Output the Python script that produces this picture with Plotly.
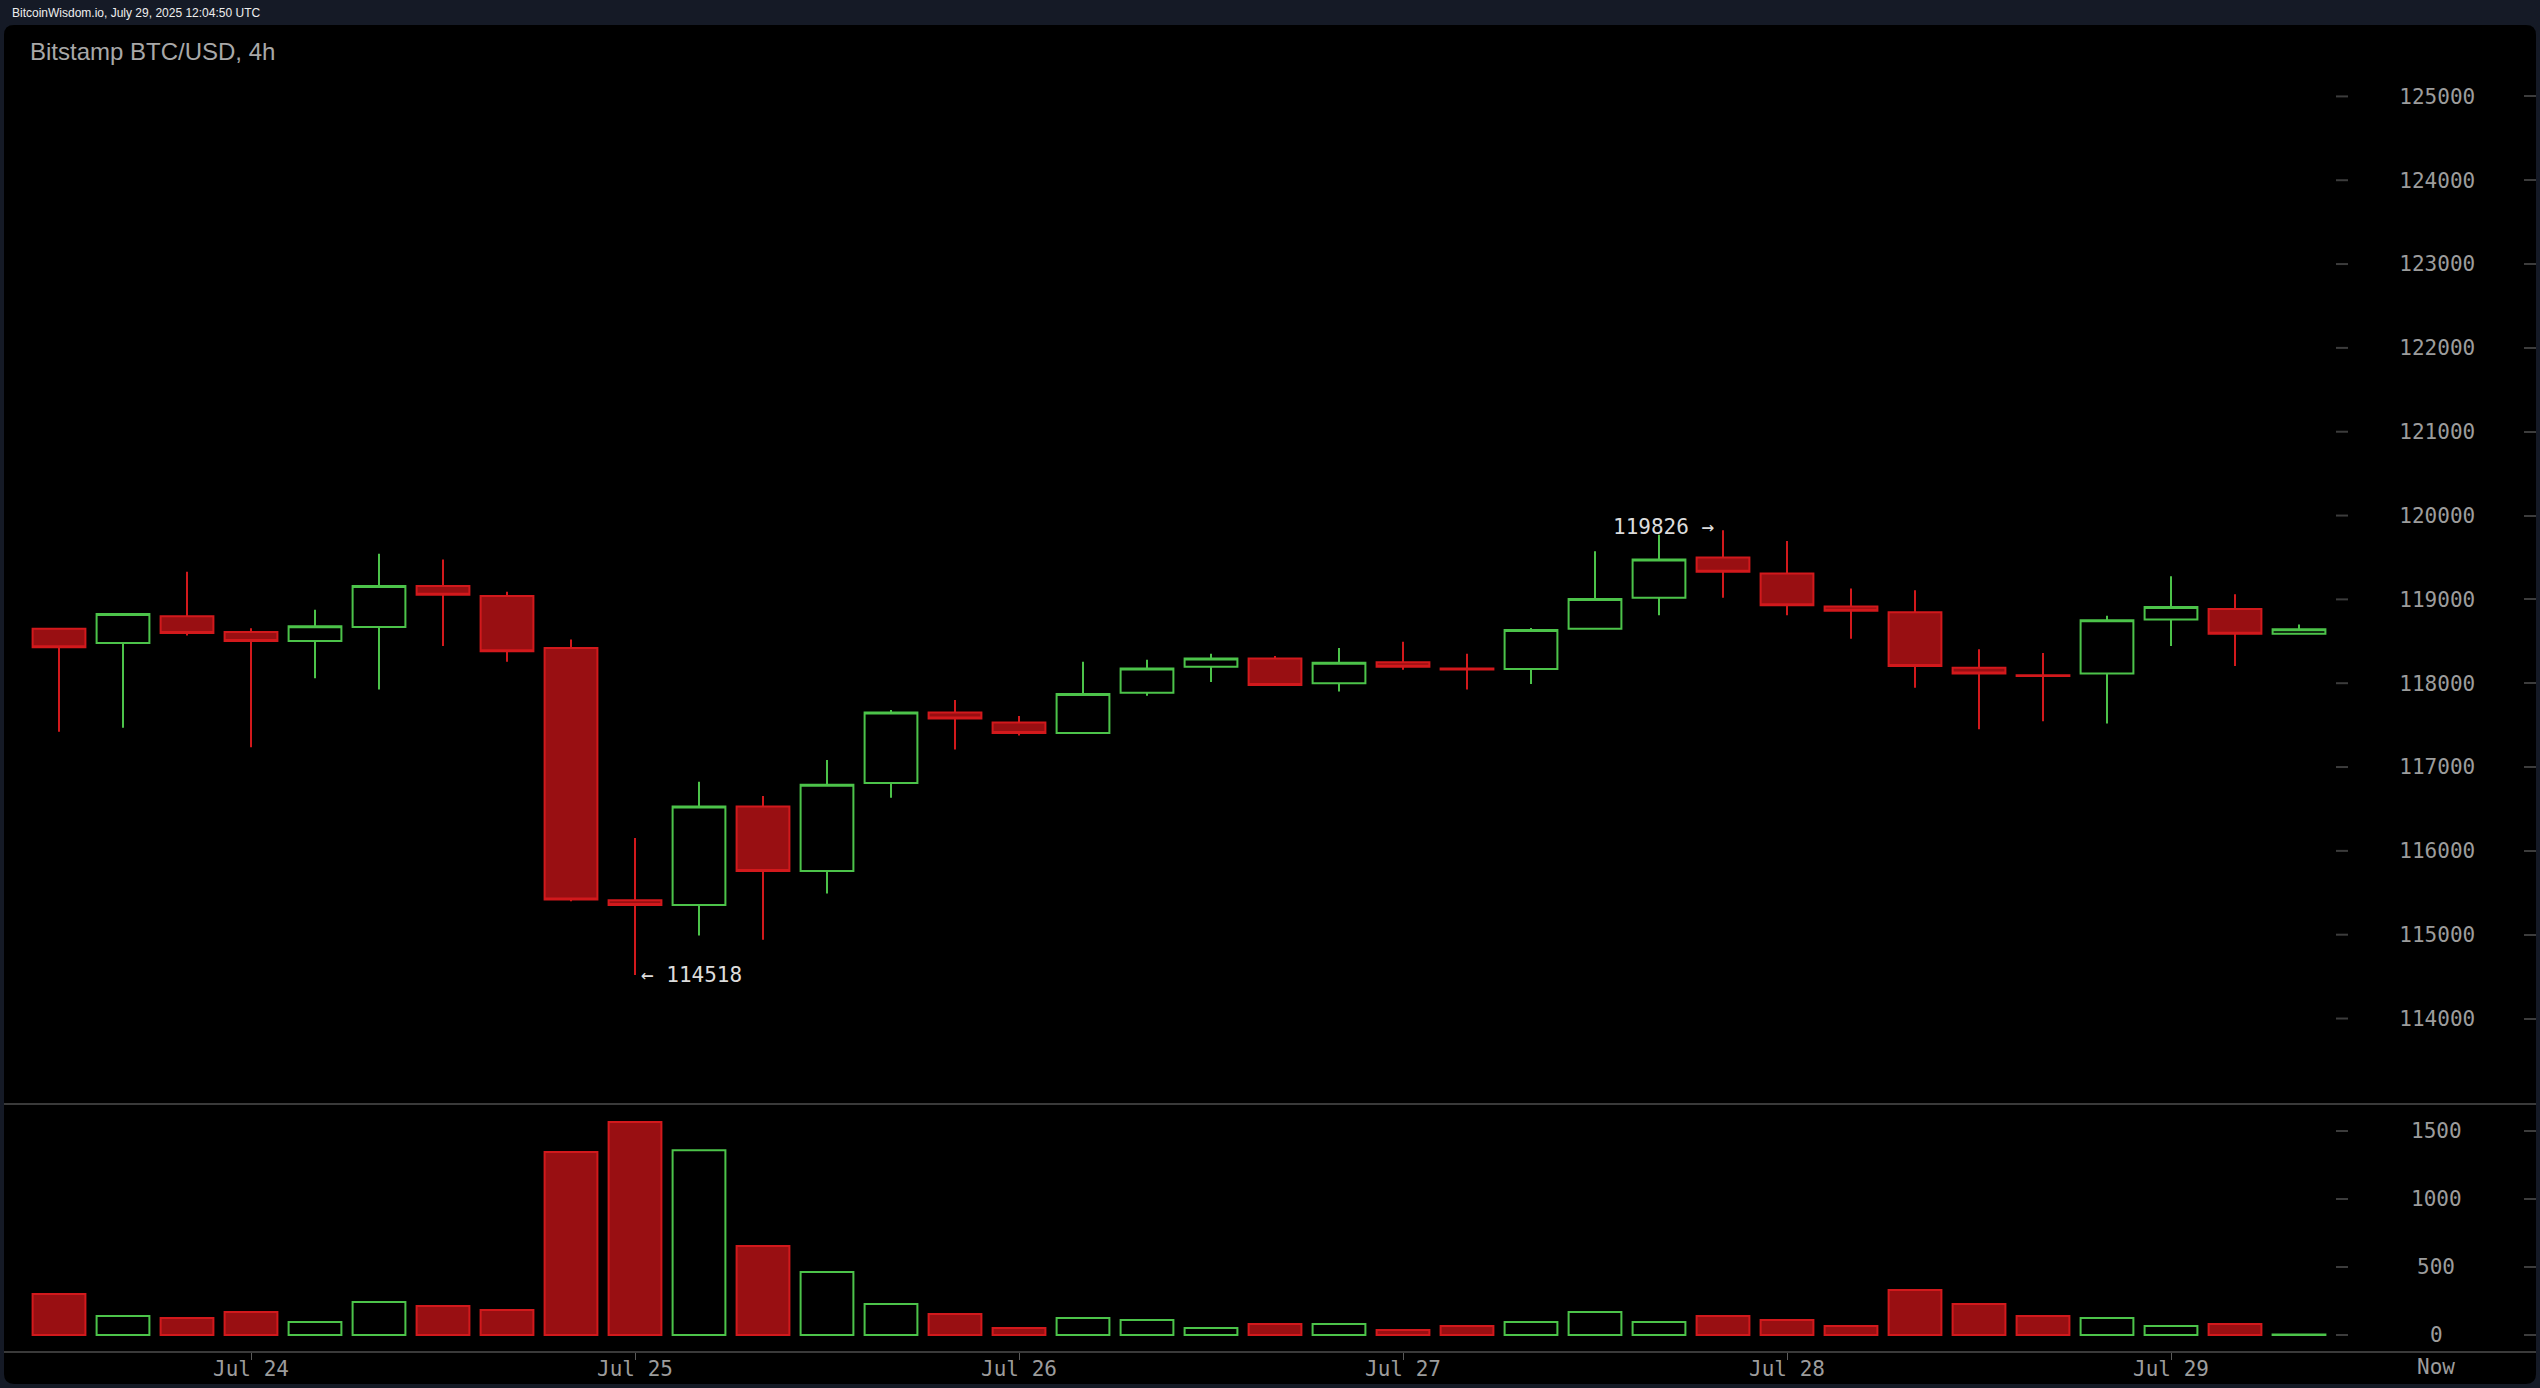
import plotly.graph_objects as go
import pandas as pd

# ---------------- data ----------------
times = [
    "2025-07-23 12:00", "2025-07-23 16:00", "2025-07-23 20:00",
    "2025-07-24 00:00", "2025-07-24 04:00", "2025-07-24 08:00", "2025-07-24 12:00", "2025-07-24 16:00", "2025-07-24 20:00",
    "2025-07-25 00:00", "2025-07-25 04:00", "2025-07-25 08:00", "2025-07-25 12:00", "2025-07-25 16:00", "2025-07-25 20:00",
    "2025-07-26 00:00", "2025-07-26 04:00", "2025-07-26 08:00", "2025-07-26 12:00", "2025-07-26 16:00", "2025-07-26 20:00",
    "2025-07-27 00:00", "2025-07-27 04:00", "2025-07-27 08:00", "2025-07-27 12:00", "2025-07-27 16:00", "2025-07-27 20:00",
    "2025-07-28 00:00", "2025-07-28 04:00", "2025-07-28 08:00", "2025-07-28 12:00", "2025-07-28 16:00", "2025-07-28 20:00",
    "2025-07-29 00:00", "2025-07-29 04:00", "2025-07-29 08:00",
]
opens = [118650, 118480, 118800, 118610, 118505, 118670, 119160, 119040, 118420,
         115410, 115355, 116530, 115760, 116810, 117650, 117530, 117405, 117885,
         118195, 118295, 118000, 118250, 118175, 118170, 118650, 119020, 119500,
         119310, 118915, 118845, 118185, 118095, 118115, 118760, 118885, 118590]
highs = [118660, 118825, 119330, 118655, 118875, 119545, 119475, 119090, 118520,
         116155, 116825, 116655, 117085, 117680, 117800, 117610, 118255, 118280,
         118350, 118325, 118420, 118495, 118350, 118660, 119575, 119770, 119826,
         119695, 119130, 119110, 118405, 118360, 118805, 119275, 119060, 118700]
lows = [117420, 117470, 118570, 117235, 118060, 117925, 118445, 118255, 115400,
        114518, 114990, 114940, 115490, 116635, 117210, 117375, 117405, 117850,
        118015, 117980, 117900, 118160, 117925, 117990, 118650, 118810, 119020,
        118810, 118530, 117945, 117450, 117545, 117520, 118445, 118205, 118590]
closes = [118430, 118825, 118600, 118505, 118680, 119160, 119055, 118380, 115420,
          115355, 116530, 115760, 116790, 117650, 117580, 117405, 117870, 118175,
          118295, 117980, 118245, 118195, 118165, 118635, 119005, 119475, 119330,
          118930, 118865, 118205, 118115, 118085, 118750, 118910, 118590, 118645]
volumes = [301, 140, 125, 169, 96, 243, 213, 184, 1346,
           1566, 1358, 654, 463, 228, 154, 51, 125, 110,
           51, 81, 81, 37, 66, 96, 169, 96, 140,
           110, 66, 331, 228, 140, 125, 66, 81, 3]

price_ticks = [114000, 115000, 116000, 117000, 118000, 119000,
               120000, 121000, 122000, 123000, 124000, 125000]
vol_ticks = [0, 500, 1000, 1500]
date_ticks = ["2025-07-24", "2025-07-25", "2025-07-26", "2025-07-27", "2025-07-28", "2025-07-29"]
date_labels = ["Jul 24", "Jul 25", "Jul 26", "Jul 27", "Jul 28", "Jul 29"]

header_text = "BitcoinWisdom.io, July 29, 2025 12:04:50 UTC"
title_text = "Bitstamp BTC/USD, 4h"

# ---------------- style / geometry ----------------
W, H = 2540, 1388
BG = "#151a26"
PANEL = "#000000"
GREEN = "#4cc34a"
RED = "#d2191c"
RED_FILL = "#990f12"
SEP = "#3a3a3a"
TICKC = "#3c3c3c"
LABEL = "#9c9c9c"
MONO = "DejaVu Sans Mono"
SANS = "Liberation Sans, Arial, sans-serif"


def px(x):
    return x / W


def py(y):
    return 1 - y / H


# horizontal layout (pixels)
PL, PR, PT, PB = 4, 2536, 25, 1384
first_px, spacing = 59.0, 64.0
step = pd.Timedelta(hours=4)
t0 = pd.Timestamp(times[0])
x_range = [t0 - step * ((first_px - PL) / spacing), t0 + step * ((PR - first_px) / spacing)]

# price panel
PRICE_TOP, PRICE_BOT = 25, 1103
ppx = 83.83 / 1000.0  # px per $
y125 = 96.4
price_range = [125000 - (PRICE_BOT - y125) / ppx, 125000 + (y125 - PRICE_TOP) / ppx]

# volume panel
VOL_TOP, VOL_BOT = 1103, 1351
vpx = 0.136  # px per unit
y0v = 1335
vol_range = [-(VOL_BOT - y0v) / vpx, (y0v - VOL_TOP) / vpx]

LABEL_X = 2436

fig = go.Figure()

fig.add_trace(go.Candlestick(
    x=times, open=opens, high=highs, low=lows, close=closes,
    increasing=dict(line=dict(color=GREEN, width=2), fillcolor="rgba(0,0,0,0)"),
    decreasing=dict(line=dict(color=RED, width=2), fillcolor=RED_FILL),
    whiskerwidth=0, xaxis="x", yaxis="y", hoverinfo="skip", showlegend=False,
))

up = [c > o for o, c in zip(opens, closes)]
fig.add_trace(go.Bar(
    x=times, y=volumes,
    width=0.825 * step.total_seconds() * 1000,
    marker=dict(color=["rgba(0,0,0,0)" if u else RED_FILL for u in up],
                line=dict(color=[GREEN if u else RED for u in up], width=2)),
    xaxis="x2", yaxis="y2", hoverinfo="skip", showlegend=False,
))

# rounded black panel
r = 10
pts = [
    ("M", PL + r, PT), ("L", PR - r, PT), ("Q", PR, PT, PR, PT + r),
    ("L", PR, PB - r), ("Q", PR, PB, PR - r, PB), ("L", PL + r, PB),
    ("Q", PL, PB, PL, PB - r), ("L", PL, PT + r), ("Q", PL, PT, PL + r, PT),
]
path = ""
for p in pts:
    if p[0] == "Q":
        path += f"Q{px(p[1]):.6f},{py(p[2]):.6f} {px(p[3]):.6f},{py(p[4]):.6f} "
    else:
        path += f"{p[0]}{px(p[1]):.6f},{py(p[2]):.6f} "
path += "Z"
shapes = [dict(type="path", path=path, xref="paper", yref="paper",
               fillcolor=PANEL, line=dict(width=0), layer="below")]

# left-hand tick dashes of the value columns
for v in price_ticks:
    shapes.append(dict(type="line", xref="paper", yref="y", x0=px(2336), x1=px(2348), y0=v, y1=v,
                       line=dict(color=TICKC, width=2)))
for v in vol_ticks:
    shapes.append(dict(type="line", xref="paper", yref="y2", x0=px(2336), x1=px(2348), y0=v, y1=v,
                       line=dict(color=TICKC, width=2)))

annotations = [
    dict(text=header_text, xref="paper", yref="paper", x=px(10), y=py(13),
         xanchor="left", yanchor="middle", showarrow=False,
         font=dict(family=SANS, size=12, color="#eeeeee")),
    dict(text=title_text, xref="paper", yref="paper", x=px(28), y=py(52),
         xanchor="left", yanchor="middle", showarrow=False,
         font=dict(family=SANS, size=24, color="#a8a8a8")),
    dict(text="Now", xref="paper", yref="paper", x=px(LABEL_X), y=py(1367),
         xanchor="center", yanchor="middle", showarrow=False,
         font=dict(family=MONO, size=21, color=LABEL)),
]
hi_i = highs.index(max(highs))
lo_i = lows.index(min(lows))
annotations.append(dict(text=f"{max(highs)} →", x=times[hi_i], y=max(highs), xref="x", yref="y",
                        xanchor="right", yanchor="middle", xshift=-7, yshift=3, showarrow=False,
                        font=dict(family=MONO, size=21, color="#dcdcdc")))
annotations.append(dict(text=f"← {min(lows)}", x=times[lo_i], y=min(lows), xref="x", yref="y",
                        xanchor="left", yanchor="middle", xshift=4, showarrow=False,
                        font=dict(family=MONO, size=21, color="#dcdcdc")))
for v in vol_ticks:
    annotations.append(dict(text=str(v), xref="paper", yref="y2", x=px(LABEL_X), y=v,
                            xanchor="center", yanchor="middle", showarrow=False,
                            font=dict(family=MONO, size=21, color=LABEL)))

fig.update_layout(
    width=W, height=H,
    margin=dict(l=0, r=0, t=0, b=0),
    paper_bgcolor=BG, plot_bgcolor="rgba(0,0,0,0)",
    boxgap=0.175, boxgroupgap=0,
    shapes=shapes, annotations=annotations,
    showlegend=False, hovermode=False,
    xaxis=dict(domain=[px(PL), px(PR)], range=x_range, type="date", anchor="y",
               showticklabels=False, ticks="", showgrid=False, zeroline=False,
               showline=True, linecolor=SEP, linewidth=2,
               rangeslider=dict(visible=False)),
    xaxis2=dict(domain=[px(PL), px(PR)], range=x_range, type="date", anchor="y2",
                tickvals=date_ticks, ticktext=date_labels, ticks="outside", ticklen=7,
                tickcolor="#5a5a5a", tickwidth=1, showgrid=False, zeroline=False,
                showline=True, linecolor=SEP, linewidth=2, ticklabelstandoff=-9,
                tickfont=dict(family=MONO, size=21, color=LABEL)),
    yaxis=dict(domain=[py(PRICE_BOT), py(PRICE_TOP)], range=price_range, anchor="x",
               side="right", tickvals=price_ticks, tickformat="d", ticks="inside", ticklen=12,
               tickcolor=TICKC, tickwidth=2, ticklabelposition="inside",
               ticklabelstandoff=50, showgrid=False, zeroline=False, showline=False,
               tickfont=dict(family=MONO, size=21, color=LABEL)),
    yaxis2=dict(domain=[py(VOL_BOT), py(VOL_TOP)], range=vol_range, anchor="x2",
                side="right", tickvals=vol_ticks, ticks="inside", ticklen=12,
                tickcolor=TICKC, tickwidth=2, showticklabels=False,
                showgrid=False, zeroline=False, showline=False),
)

fig.write_html(
    "out.html",
    config={"displayModeBar": False},
    post_script="document.body.style.margin='0';document.body.style.background='#151a26';",
)
